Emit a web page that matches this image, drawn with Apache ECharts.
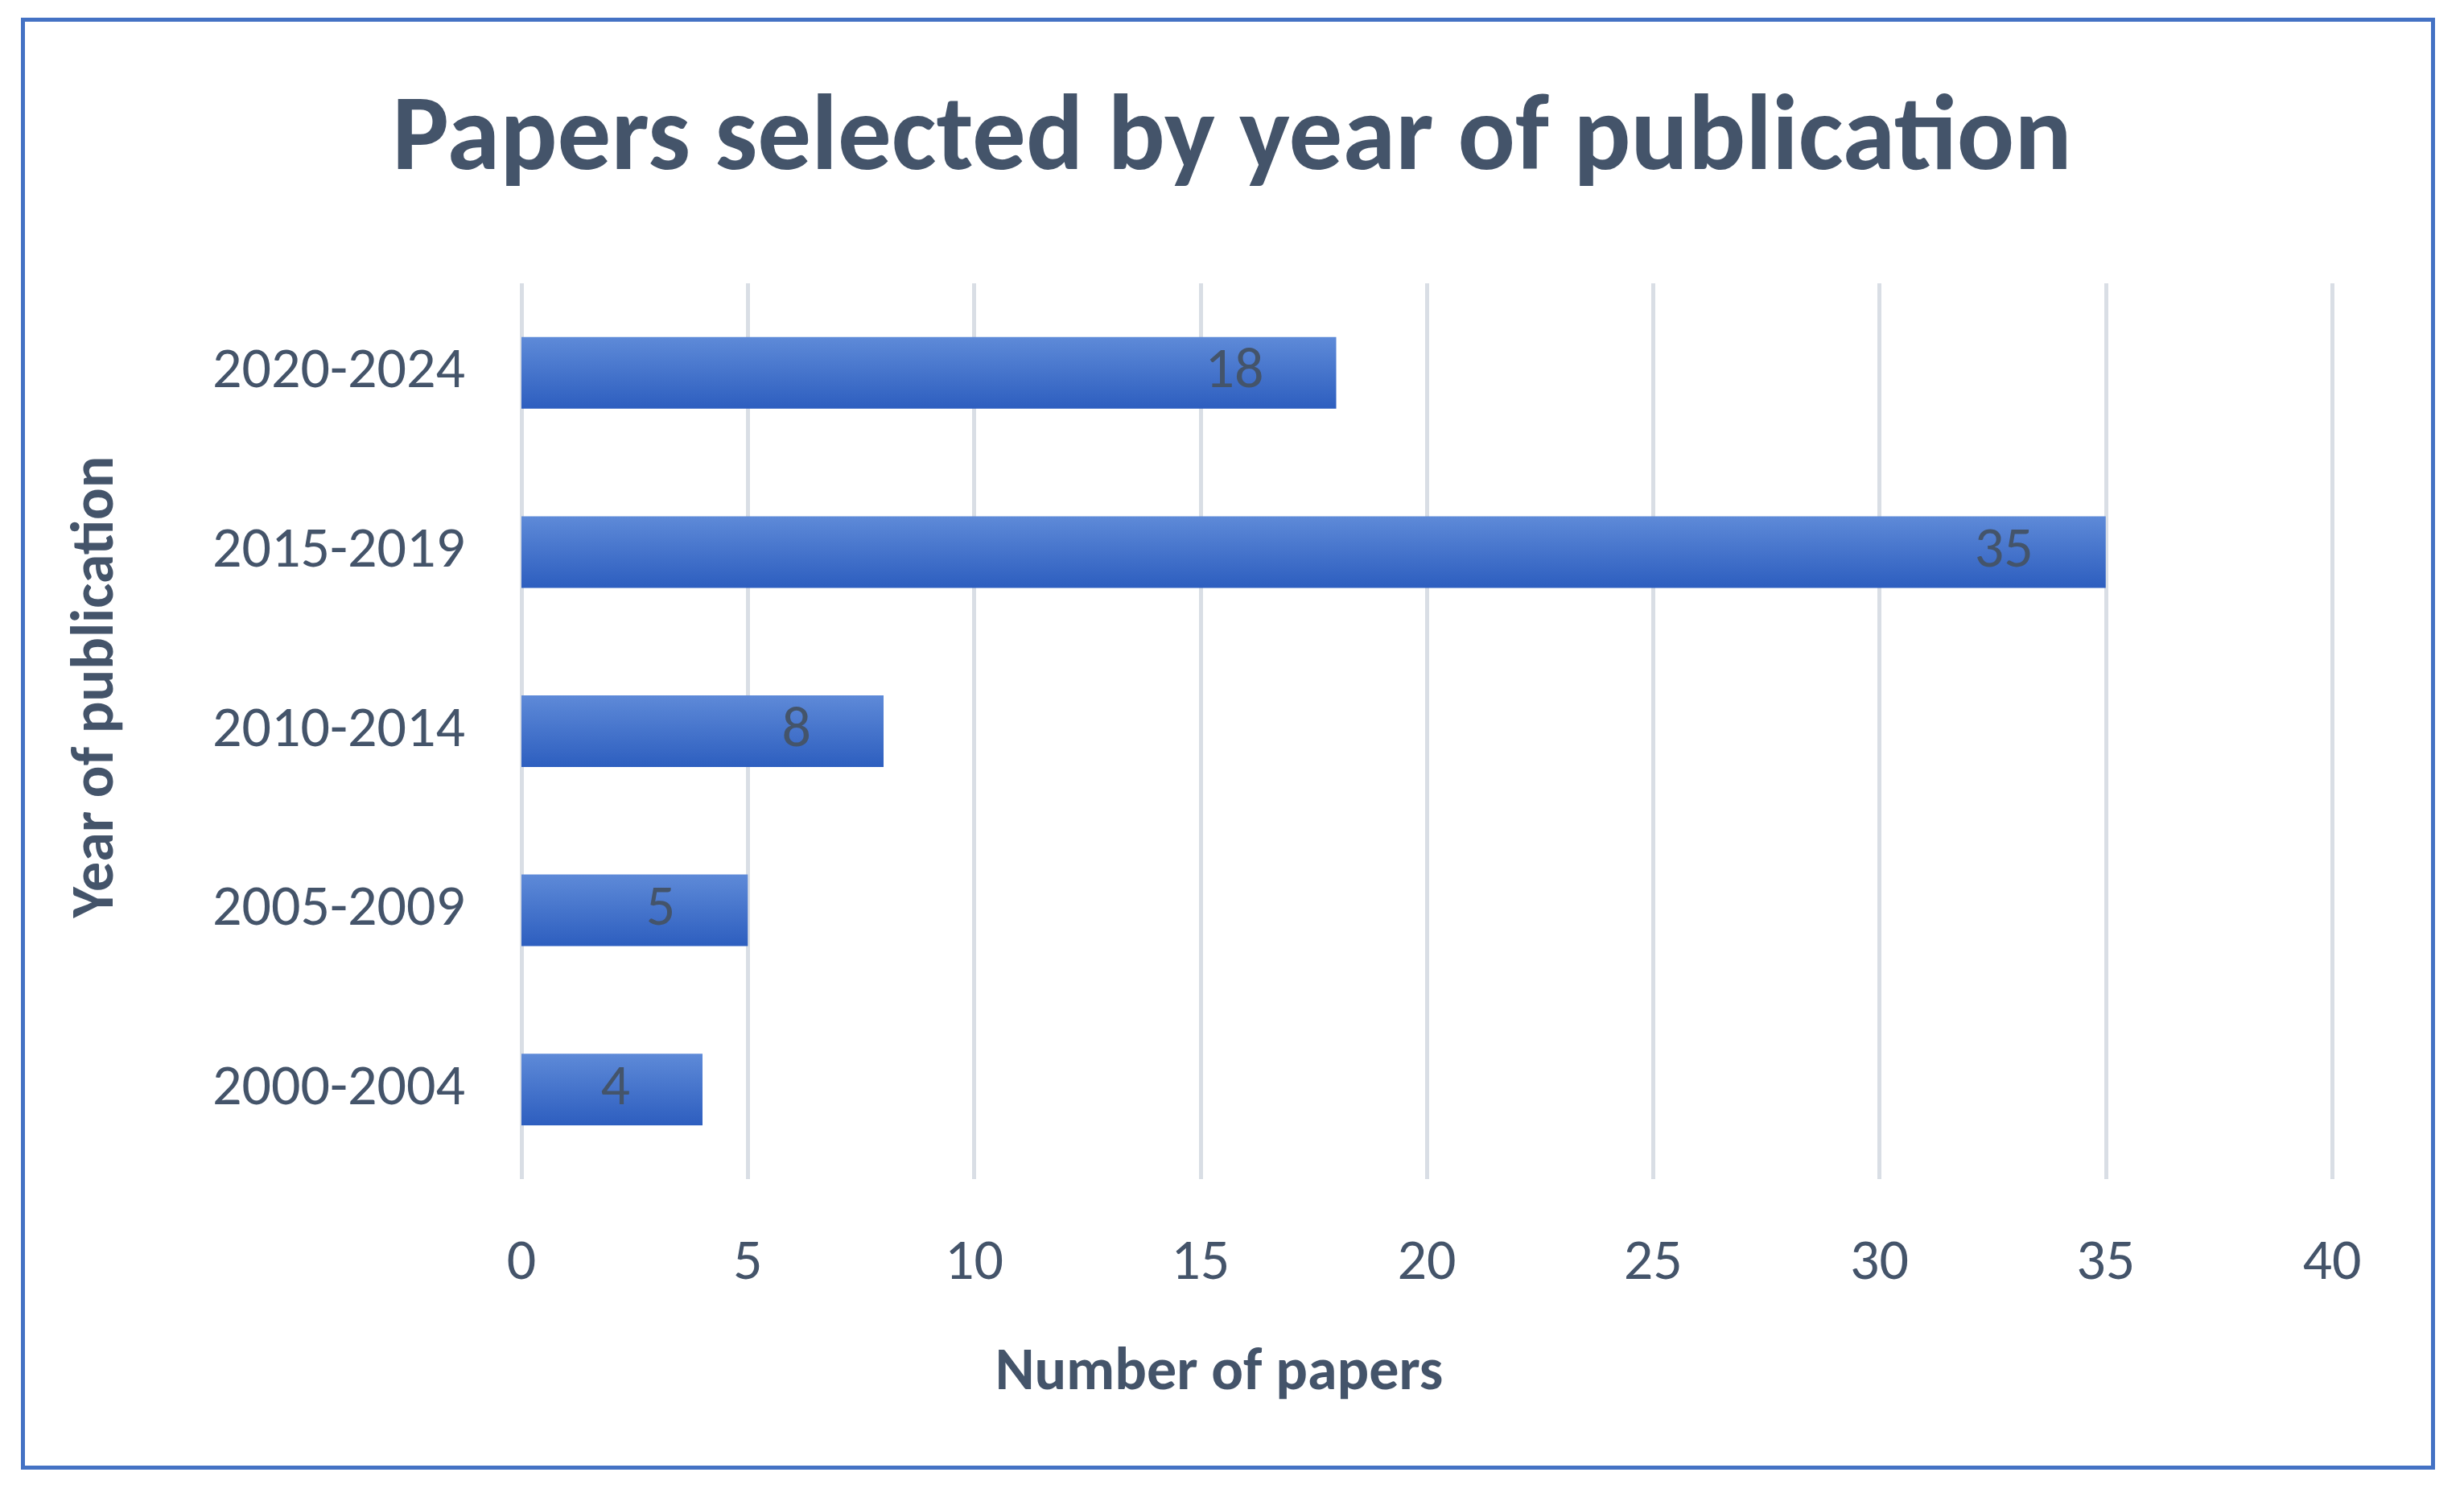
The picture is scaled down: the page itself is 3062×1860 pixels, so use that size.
<!DOCTYPE html>
<html><head><meta charset="utf-8">
<script src="https://cdn.jsdelivr.net/npm/echarts@6/dist/echarts.min.js"></script>
<style>html,body{margin:0;padding:0;background:#fff}#c{width:3062px;height:1860px}
#b{position:absolute;left:26px;top:22px;width:3000px;height:1804px;border:5px solid #4472C4;box-sizing:border-box;pointer-events:none}</style>
</head><body><div id="c"></div><div id="b"></div>
<script>
const categories = ['2000-2004','2005-2009','2010-2014','2015-2019','2020-2024'];
const values = [4,5,8,35,18];
const ticks = [0,5,10,15,20,25,30,35,40];
const font = 'Carlito, Calibri, "Open Sans", sans-serif';
const ch = echarts.init(document.getElementById('c'));
ch.setOption({
  title:{text:'Papers selected by year of publication',left:'center',top:105,
    textStyle:{fontSize:133,fontWeight:'bold',color:'#44546A',fontFamily:font}},
  grid:{left:648,right:164,top:352,bottom:395},
  xAxis:{type:'value',min:0,max:40,interval:5,name:'Number of papers',nameLocation:'middle',nameGap:205,
    nameTextStyle:{fontSize:74,fontWeight:'bold',color:'#44546A',fontFamily:font,padding:[0,516,0,0]},
    axisLabel:{fontSize:72,color:'#44546A',margin:70,fontFamily:font,formatter:v=>ticks.includes(v)?String(v):''},
    splitLine:{lineStyle:{color:'#D9DEE5',width:5}},axisLine:{show:false},axisTick:{show:false}},
  yAxis:{type:'category',data:categories,name:'Year of publication',nameLocation:'middle',nameGap:490,nameRotate:90,
    nameTextStyle:{fontSize:74,fontWeight:'bold',color:'#44546A',fontFamily:font,padding:[0,0,0,110]},
    axisLabel:{fontSize:72,color:'#44546A',margin:70,fontFamily:font},
    axisLine:{show:false},axisTick:{show:false}},
  series:[{type:'bar',data:values,barWidth:'40%',
    itemStyle:{color:new echarts.graphic.LinearGradient(0,0,0,1,[{offset:0,color:'#5E8AD8'},{offset:1,color:'#2D5EBF'}])},
    label:{show:true,position:'insideRight',distance:90,fontSize:72,color:'#44546A',fontFamily:font}}]
});
</script></body></html>
